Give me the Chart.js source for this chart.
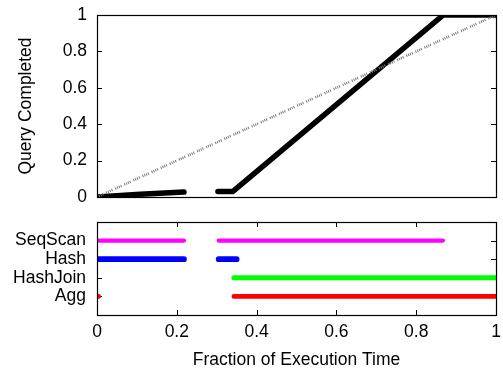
<!DOCTYPE html>
<html>
<head>
<meta charset="utf-8">
<script src="https://cdn.jsdelivr.net/npm/chart.js@4/dist/chart.umd.min.js"></script>
<style>
  html, body { margin: 0; padding: 0; background: #fff; }
  #wrap { position: relative; width: 503px; height: 371px; }
  canvas { position: absolute; left: 0; }
</style>
</head>
<body>
<div id="wrap">
  <canvas id="top" width="503" height="210" style="top:0"></canvas>
  <canvas id="bot" width="503" height="161" style="top:210px"></canvas>
</div>
<script>
// ---------- data ----------
// Query progress curve (fraction of execution time -> fraction of query completed); null = gap
const progressX = [0, 0.108, 0.218, null, 0.303, 0.34, 0.868, 1.0];
const progressY = [0, 0.015, 0.027, null, 0.03, 0.03, 1.0, 1.0];
// Ideal (linear) progress reference
const idealX = [0, 1];
const idealY = [0, 1];
// Top chart tick values
const progressTicks = [0, 0.2, 0.4, 0.6, 0.8, 1];
// Operator timeline (bottom chart), listed bottom to top
const timelineOps = ['Agg', 'HashJoin', 'Hash', 'SeqScan'];
const aggSpans      = [[0, 0.004], [0.343, 0.884], [0.887, 1.0]];
const hashJoinSpans = [[0.343, 0.884], [0.887, 1.0]];
const hashSpans     = [[0, 0.218], [0.305, 0.35]];
const seqScanSpans  = [[0, 0.218], [0.305, 0.867]];
const timeTicks = [0, 0.2, 0.4, 0.6, 0.8, 1];

// ---------- helpers ----------
const FONT = { family: '"Liberation Sans", Arial, sans-serif', size: 17.5 };
const fmt = v => String(Math.round(v * 10) / 10);
function pairs(xs, ys) {
  return xs.map((x, i) => (x === null ? { x: null, y: null } : { x: x, y: ys[i] }));
}
function spansToPoints(spans, level) {
  const pts = [];
  spans.forEach((s, i) => {
    if (i > 0) pts.push({ x: null, y: null });
    pts.push({ x: s[0], y: level });
    pts.push({ x: s[1], y: level });
  });
  return pts;
}
function noPad(s) {
  s.paddingTop = 0; s.paddingBottom = 0; s.paddingLeft = 0; s.paddingRight = 0;
}

// frame + inward ticks plugin
const framePlugin = {
  id: 'frame',
  beforeDatasetsDraw(chart, args, opts) {
    const { ctx, chartArea: a } = chart;
    const len = 5;
    ctx.save();
    ctx.strokeStyle = '#000';
    ctx.lineWidth = 1;
    ctx.beginPath();
    if (opts.xTicks) {
      const xs = chart.scales.x;
      opts.xTicks.forEach(v => {
        if (v <= xs.min || v >= xs.max) return;
        const px = Math.round(xs.getPixelForValue(v)) + 0.5;
        ctx.moveTo(px, a.bottom); ctx.lineTo(px, a.bottom - len);
        ctx.moveTo(px, a.top); ctx.lineTo(px, a.top + len);
      });
    }
    if (opts.yTicks) {
      const ys = chart.scales.y;
      opts.yTicks.forEach(v => {
        if (v <= ys.min || v >= ys.max) return;
        const py = Math.round(ys.getPixelForValue(v)) + 0.5;
        ctx.moveTo(a.left, py); ctx.lineTo(a.left + len, py);
        ctx.moveTo(a.right, py); ctx.lineTo(a.right - len, py);
      });
    }
    ctx.stroke();
    ctx.restore();
  },
  afterDatasetsDraw(chart) {
    const { ctx, chartArea: a } = chart;
    ctx.save();
    ctx.strokeStyle = '#000';
    ctx.lineWidth = 1.2;
    ctx.strokeRect(Math.round(a.left) + 0.5, Math.round(a.top) + 0.5,
                   Math.round(a.right - a.left), Math.round(a.bottom - a.top));
    ctx.restore();
  }
};

Chart.defaults.font.family = FONT.family;
Chart.defaults.font.size = FONT.size;
Chart.defaults.color = '#000';

// ---------- top chart ----------
new Chart(document.getElementById('top'), {
  type: 'line',
  data: {
    datasets: [
      {
        data: pairs(idealX, idealY),
        borderColor: '#7a7a7a',
        borderWidth: 2.5,
        borderDash: [1, 1, 1, 1, 1, 1, 1, 3],
        pointRadius: 0,
        fill: false
      },
      {
        data: pairs(progressX, progressY),
        borderColor: '#000',
        borderWidth: 5.5,
        borderCapStyle: 'round',
        borderJoinStyle: 'round',
        pointRadius: 0,
        spanGaps: false,
        fill: false
      }
    ]
  },
  options: {
    responsive: false,
    animation: false,
    devicePixelRatio: 1,
    layout: { padding: { top: 15, right: 7, bottom: 13, left: 0 } },
    plugins: {
      legend: { display: false },
      tooltip: { enabled: false },
      frame: { yTicks: progressTicks }
    },
    scales: {
      x: { type: 'linear', min: 0, max: 1, display: false },
      y: {
        type: 'linear', min: 0, max: 1,
        afterFit: s => { s.width = 97; noPad(s); },
        afterBuildTicks: s => { s.ticks = progressTicks.map(v => ({ value: v })); },
        grid: { display: false, drawTicks: false },
        border: { display: false },
        ticks: { padding: 10, color: '#000', font: FONT, callback: v => fmt(v) },
        title: {
          display: true, text: 'Query Completed', color: '#000', font: FONT,
          padding: { top: 15.5, bottom: 0 }
        }
      }
    }
  },
  plugins: [framePlugin]
});

// ---------- bottom chart ----------
const opSpans = { Agg: aggSpans, HashJoin: hashJoinSpans, Hash: hashSpans, SeqScan: seqScanSpans };
const opColors = { Agg: '#ff0000', HashJoin: '#00ff00', Hash: '#0000ff', SeqScan: '#ff00ff' };
const opWidths = { Agg: 4.7, HashJoin: 5, Hash: 5.7, SeqScan: 4.2 };

new Chart(document.getElementById('bot'), {
  type: 'line',
  data: {
    datasets: timelineOps.map((op, i) => ({
      label: op,
      data: spansToPoints(opSpans[op], i + 1),
      borderColor: opColors[op],
      borderWidth: opWidths[op],
      borderCapStyle: 'round',
      pointRadius: 0,
      spanGaps: false,
      fill: false
    }))
  },
  options: {
    responsive: false,
    animation: false,
    devicePixelRatio: 1,
    layout: { padding: { top: 12, right: 7, bottom: 0, left: 0 } },
    plugins: {
      legend: { display: false },
      tooltip: { enabled: false },
      frame: { xTicks: timeTicks, yTicks: [1, 2, 3, 4] }
    },
    scales: {
      x: {
        type: 'linear', min: 0, max: 1,
        afterFit: s => { s.height = 56; noPad(s); },
        afterBuildTicks: s => { s.ticks = timeTicks.map(v => ({ value: v })); },
        grid: { display: false, drawTicks: false },
        border: { display: false },
        ticks: { padding: 7, color: '#000', font: FONT, maxRotation: 0, callback: v => fmt(v) },
        title: {
          display: true, text: 'Fraction of Execution Time', color: '#000', font: FONT,
          padding: { top: 0, bottom: 0.5 }
        }
      },
      y: {
        type: 'linear', min: 0, max: 5,
        afterFit: s => { s.width = 97; noPad(s); },
        afterBuildTicks: s => { s.ticks = timelineOps.map((_, i) => ({ value: i + 1 })); },
        grid: { display: false, drawTicks: false },
        border: { display: false },
        ticks: {
          padding: 11, color: '#000', font: FONT,
          callback: v => timelineOps[v - 1]
        }
      }
    }
  },
  plugins: [framePlugin]
});
</script>
</body>
</html>
